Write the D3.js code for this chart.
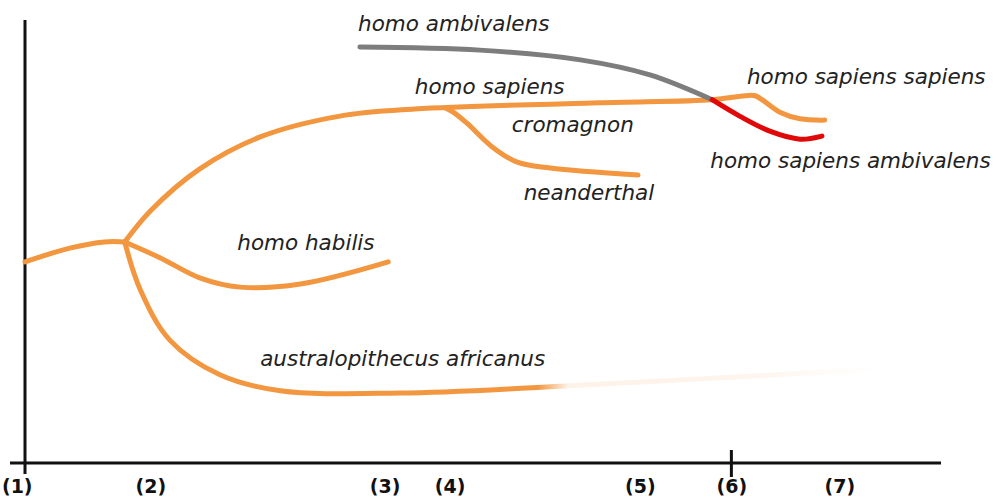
<!DOCTYPE html>
<html>
<head>
<meta charset="utf-8">
<script src="https://cdn.jsdelivr.net/npm/d3@7"></script>
<style>
  body { margin: 0; background: #fff; }
  svg { display: block; }
  .lbl { font-family: "DejaVu Sans", Verdana, sans-serif; font-style: italic; font-size: 21.5px; fill: #222; }
  .tick text { font-family: "DejaVu Sans", Verdana, sans-serif; font-weight: bold; font-size: 19px; fill: #111; }
</style>
</head>
<body>
<div id="chart"></div>
<script>
// time axis labels
var tickLabels = ["(1)", "(2)", "(3)", "(4)", "(5)", "(6)", "(7)"];
var tickValues = [-0.9, 13.7, 39.3, 46.4, 67.2, 77.2, 89.0];

// branches, [time, height]
var rootBranch = [[0, 45.4], [4.9, 48.5], [8.7, 49.9], [10.9, 49.9]];
var sapiensBranch = [[10.9, 49.9], [13.7, 56.9], [19.1, 66.4], [25.7, 73.6], [34.4, 78.3], [42.6, 79.9], [62.8, 81.3], [75.1, 82.0], [78.7, 82.9], [79.8, 82.9], [82.5, 79.2], [84.7, 77.7], [87.4, 77.4]];
var neanderthalBranch = [[46.0, 80.1], [46.8, 79.2], [48.3, 76.7], [51.1, 71.3], [53.8, 67.9], [57.4, 66.6], [67.0, 65.0]];
var habilisBranch = [[10.9, 49.9], [14.8, 46.3], [19.1, 41.8], [23.5, 39.7], [30.1, 40.4], [39.7, 45.4]];
var australoBranch = [[10.9, 49.9], [12.6, 39.1], [15.8, 27.8], [21.3, 19.9], [27.9, 16.3], [41.0, 15.8], [57.4, 17.2], [93.4, 21.2]];
var ambivalensBranch = [[36.6, 93.9], [49.7, 93.2], [60.7, 91.0], [68.3, 87.6], [75.1, 82.0]];
var sapAmbivalensBranch = [[75.1, 82.0], [78.1, 78.3], [81.4, 74.9], [84.7, 73.1], [87.1, 73.8]];

// labels
var labelNames = ["homo ambivalens", "homo sapiens", "cromagnon", "neanderthal", "homo sapiens sapiens", "homo sapiens ambivalens", "homo habilis", "australopithecus africanus"];
var labelPos = [[36.4, 97.5], [42.6, 83.3], [53.2, 74.7], [54.5, 59.4], [78.9, 85.6], [74.9, 66.6], [23.2, 48.1], [25.7, 21.9]];

var width = 997, height = 501;
var orange = "#f2963f";

var svg = d3.select('#chart').append('svg')
  .attr('width', width)
  .attr('height', height);

var x = d3.scaleLinear().domain([0, 100]).range([25, 940]);
var y = d3.scaleLinear().domain([0, 100]).range([463, 20]);

var line = d3.line()
  .x(function(d) { return x(d[0]); })
  .y(function(d) { return y(d[1]); })
  .curve(d3.curveCatmullRom.alpha(0.5));

// fade for the australopithecus line
var grad = svg.append('defs').append('linearGradient')
  .attr('id', 'fade')
  .attr('gradientUnits', 'userSpaceOnUse')
  .attr('x1', x(56)).attr('x2', x(93.4))
  .attr('y1', 0).attr('y2', 0);
grad.append('stop').attr('offset', 0).attr('stop-color', orange).attr('stop-opacity', 1);
grad.append('stop').attr('offset', 0.09).attr('stop-color', orange).attr('stop-opacity', 0.12);
grad.append('stop').attr('offset', 0.6).attr('stop-color', orange).attr('stop-opacity', 0.1);
grad.append('stop').attr('offset', 1).attr('stop-color', orange).attr('stop-opacity', 0);

// axes
svg.append('line')
  .attr('x1', x(0)).attr('x2', x(0))
  .attr('y1', y(100)).attr('y2', 474)
  .attr('stroke', '#111').attr('stroke-width', 3);
svg.append('line')
  .attr('x1', 10).attr('x2', 941)
  .attr('y1', y(0)).attr('y2', y(0))
  .attr('stroke', '#111').attr('stroke-width', 3);
svg.append('line')
  .attr('x1', x(77.2)).attr('x2', x(77.2))
  .attr('y1', 450).attr('y2', 477)
  .attr('stroke', '#111').attr('stroke-width', 3);

var axis = d3.axisBottom(x)
  .tickValues(tickValues)
  .tickFormat(function(d, i) { return tickLabels[i]; })
  .tickSize(0)
  .tickPadding(17);
var ax = svg.append('g').attr('transform', 'translate(0,' + y(0) + ')').call(axis);
ax.select('.domain').remove();
ax.selectAll('text').attr('font-family', null).attr('font-size', null);

// branches
var branches = [
  { pts: rootBranch, color: orange },
  { pts: habilisBranch, color: orange },
  { pts: australoBranch, color: 'url(#fade)' },
  { pts: sapiensBranch, color: orange },
  { pts: neanderthalBranch, color: orange },
  { pts: ambivalensBranch, color: '#7d7d7d' },
  { pts: sapAmbivalensBranch, color: '#e00808' }
];

svg.selectAll('path.branch')
  .data(branches)
  .enter()
  .append('path')
  .attr('class', 'branch')
  .attr('d', function(d) { return line(d.pts); })
  .attr('fill', 'none')
  .attr('stroke', function(d) { return d.color; })
  .attr('stroke-width', 5)
  .attr('stroke-linecap', 'round')
  .attr('stroke-linejoin', 'round');

// names
svg.selectAll('text.lbl')
  .data(labelNames)
  .enter()
  .append('text')
  .attr('class', 'lbl')
  .attr('x', function(d, i) { return x(labelPos[i][0]); })
  .attr('y', function(d, i) { return y(labelPos[i][1]); })
  .text(function(d) { return d; });
</script>
</body>
</html>
